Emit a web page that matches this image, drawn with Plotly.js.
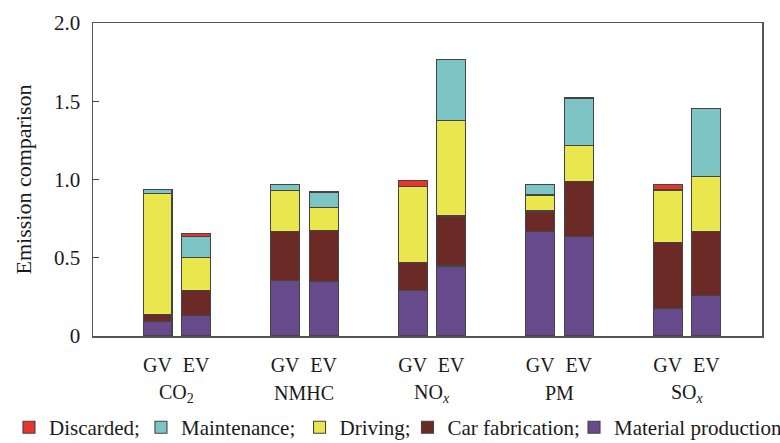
<!DOCTYPE html>
<html>
<head>
<meta charset="utf-8">
<script src="https://cdn.plot.ly/plotly-3.0.1.min.js"></script>
<style>html,body{margin:0;padding:0;background:#fff;}#chart{width:780px;height:443px;}</style>
</head>
<body>
<div id="chart"></div>
<script>
// ---- data ----
const pollutants = ['CO<sub>2</sub>', 'NMHC', 'NO<sub><i>x</i></sub>', 'PM', 'SO<sub><i>x</i></sub>'];
const vehicles = ['GV', 'EV'];
// order per bar: CO2 GV, CO2 EV, NMHC GV, NMHC EV, NOx GV, NOx EV, PM GV, PM EV, SOx GV, SOx EV
const materialProduction = [0.090, 0.130, 0.353, 0.347, 0.290, 0.447, 0.667, 0.635, 0.175, 0.258];
const carFabrication     = [0.048, 0.160, 0.316, 0.330, 0.178, 0.320, 0.132, 0.353, 0.424, 0.409];
const driving            = [0.775, 0.212, 0.262, 0.143, 0.486, 0.611, 0.102, 0.230, 0.334, 0.353];
const maintenance        = [0.025, 0.132, 0.038, 0.100, 0.000, 0.386, 0.068, 0.303, 0.000, 0.433];
const discarded          = [0.000, 0.020, 0.000, 0.000, 0.040, 0.000, 0.000, 0.000, 0.034, 0.000];
const stageNames = ['Material production', 'Car fabrication;', 'Driving;', 'Maintenance;', 'Discarded;'];
const yTickVals = [0, 0.5, 1.0, 1.5, 2.0];
const yTickText = ['0', '0.5', '1.0', '1.5', '2.0'];

// ---- build bar positions: group index with a GV/EV offset ----
const pairOffset = 0.151;
const xPos = [], xText = [];
pollutants.forEach((p, g) => {
  vehicles.forEach((v, j) => {
    xPos.push(g + (j === 0 ? -pairOffset : pairOffset));
    xText.push(v);
  });
});

const font = 'Liberation Serif';
const ink = '#1a1a1a';
const outline = {color: '#444', width: 1.1};
const stageValues = [materialProduction, carFabrication, driving, maintenance, discarded];
const stageColors = ['#664a8b', '#6b2a25', '#e9e64e', '#7cc5c4', '#e8332f'];
// one legend per entry so the single legend row is laid out like the reference
const legendIds = ['legend5', 'legend4', 'legend3', 'legend2', 'legend'];
const legendX = [0.7190, 0.4701, 0.3087, 0.0717, -0.1256];

const traces = stageNames.map((name, i) => ({
  type: 'bar', name: name, x: xPos, y: stageValues[i], width: 0.227,
  marker: {color: stageColors[i], line: outline},
  legend: legendIds[i],
  hoverinfo: 'y+name'
}));

const annotations = pollutants.map((p, g) => ({
  x: g, xref: 'x', y: -0.183, yref: 'paper', yanchor: 'middle',
  text: p, showarrow: false, font: {family: font, size: 20, color: ink}
}));

const layout = {
  width: 780, height: 443,
  margin: {l: 93, r: 18, t: 23, b: 107, autoexpand: false},
  paper_bgcolor: '#fff', plot_bgcolor: '#fff',
  barmode: 'stack',
  font: {family: font, size: 20, color: ink},
  xaxis: {
    range: [-0.657, 4.588], tickvals: xPos, ticktext: xText,
    ticks: '', showgrid: false, zeroline: false,
    showline: true, linecolor: '#555', linewidth: 1.5, mirror: true,
    ticklabelstandoff: 10,
    tickfont: {family: font, size: 20, color: ink}
  },
  yaxis: {
    range: [0, 2.0], tickvals: yTickVals, ticktext: yTickText,
    ticks: 'inside', ticklen: 6, tickwidth: 1.2, tickcolor: '#444',
    showgrid: false, zeroline: false,
    showline: true, linecolor: '#555', linewidth: 1.5, mirror: true,
    ticklabelstandoff: 7,
    tickfont: {family: font, size: 21, color: ink},
    title: {text: 'Emission comparison', standoff: 16, font: {family: font, size: 22, color: ink}}
  },
  annotations: annotations,
  showlegend: true
};
legendIds.forEach((id, i) => {
  layout[id] = {
    orientation: 'h', x: legendX[i], xanchor: 'left', xref: 'paper',
    y: -0.358, yanchor: 'bottom', yref: 'paper',
    font: {family: font, size: 21, color: ink},
    bgcolor: 'rgba(0,0,0,0)', borderwidth: 0
  };
});

Plotly.newPlot('chart', traces, layout, {displayModeBar: false, staticPlot: true});
</script>
</body>
</html>
